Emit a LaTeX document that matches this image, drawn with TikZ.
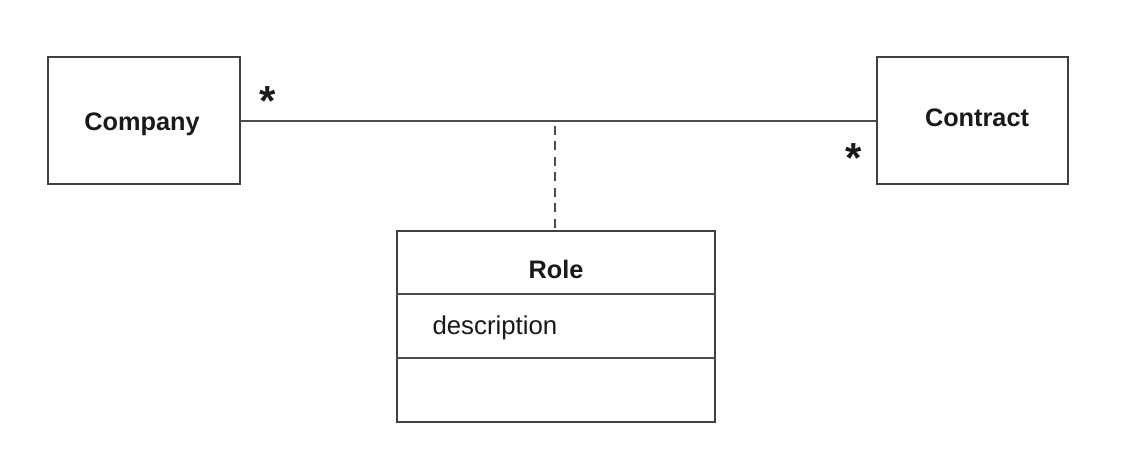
\documentclass[tikz,border=0pt]{standalone}
\usepackage{fontspec}
\setmainfont{Liberation Sans}
\begin{document}
\begin{tikzpicture}[x=1pt,y=-1pt,
  line/.style={draw=black!70,line width=2pt},
  cls/.style={draw=black!75,line width=2pt,fill=white,inner sep=0pt},
  lbl/.style={font=\fontsize{25.3}{29}\selectfont\bfseries,text=black!90},
  attr/.style={font=\fontsize{25.8}{29}\selectfont,text=black!90},
  mult/.style={font=\fontsize{42}{44}\selectfont\bfseries,text=black!90,inner sep=0pt,anchor=base}]
\useasboundingbox (0,0) rectangle (1132,449);
% Company
\node[cls,minimum width=192pt,minimum height=127pt] (company) at (144,120.5) {};
\node[lbl] (companyT) at (142,124) {Company};
% Contract
\node[cls,minimum width=191pt,minimum height=127pt] (contract) at (972.5,120.5) {};
\node[lbl] (contractT) at (977,118) {Contract};
% association
\draw[line] (company.east |- 0,121) coordinate (a1) -- (contract.west |- 0,121) coordinate (a2);
\coordinate (mid) at (555,126);
% Role class
\node[cls,minimum width=318pt,minimum height=191pt] (role) at (555.5,326.5) {};
\draw[line] (role.west |- 0,294) -- (role.east |- 0,294);
\draw[line] (role.west |- 0,358) -- (role.east |- 0,358);
\node[lbl] (roleT) at (556,269) {Role};
\node[attr,anchor=west] (desc) at (429,328) {description};
% association class link
\draw[line,dash pattern=on 9pt off 6.5pt] (mid) -- (role.north -| mid);
% multiplicities
\node[mult] (m1) at (268,116) {*};
\node[mult] (m2) at (854,173) {*};
\end{tikzpicture}
\end{document}
